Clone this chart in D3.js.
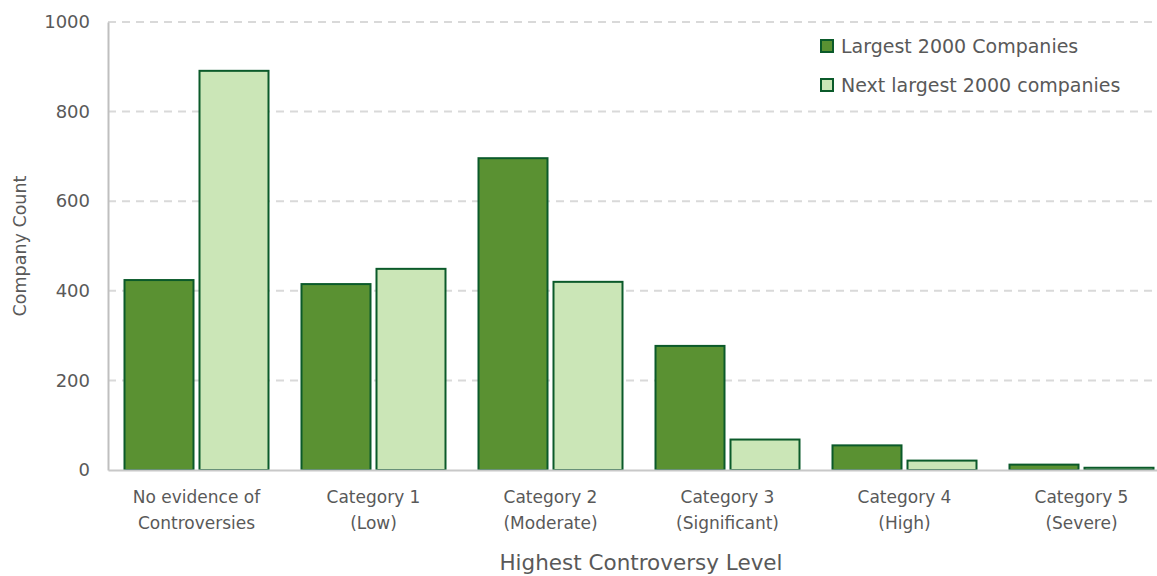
<!DOCTYPE html>
<html>
<head>
<meta charset="utf-8">
<script src="https://cdn.jsdelivr.net/npm/d3@7"></script>
<style>
  html, body { margin: 0; padding: 0; background: #fff; }
  svg { display: block; }
  text { font-family: "DejaVu Sans", "Liberation Sans", sans-serif; fill: #595959; }
</style>
</head>
<body>
<svg id="chart" width="1157" height="576"></svg>
<script>
// Company counts by highest controversy level
const categories = [
  ["No evidence of", "Controversies"],
  ["Category 1", "(Low)"],
  ["Category 2", "(Moderate)"],
  ["Category 3", "(Significant)"],
  ["Category 4", "(High)"],
  ["Category 5", "(Severe)"]
];
const seriesNames = ["Largest 2000 Companies", "Next largest 2000 companies"];
const largest2000 = [424, 415, 696, 277, 55, 12];
const nextLargest2000 = [891, 449, 420, 68, 21, 5];
const yTicks = [0, 200, 400, 600, 800, 1000];

const fills = ["#5a9132", "#cbe6b7"];
const strokeColor = "#0b5a2a";

const svg = d3.select("#chart");
const margin = { left: 108, top: 22, right: 1170, bottom: 470 };

const x = d3.scaleBand()
  .domain(d3.range(categories.length))
  .range([margin.left, margin.right]);

const xInner = d3.scaleBand()
  .domain([0, 1])
  .range([0, x.bandwidth()])
  .paddingInner(0.08)
  .paddingOuter(0.22);

const y = d3.scaleLinear().domain([0, 1000]).range([margin.bottom, margin.top]);

// Dashed horizontal gridlines
svg.append("g")
  .selectAll("line")
  .data(yTicks.filter(d => d > 0))
  .join("line")
  .attr("x1", margin.left)
  .attr("x2", 1157)
  .attr("y1", d => y(d))
  .attr("y2", d => y(d))
  .attr("stroke", "#d9d9d9")
  .attr("stroke-width", 2)
  .attr("stroke-dasharray", "8,6");

// Y axis
const yAxis = d3.axisLeft(y).tickValues(yTicks).tickFormat(d3.format("d")).tickSize(0).tickPadding(18);
const gy = svg.append("g").attr("transform", `translate(${margin.left},0)`).call(yAxis);
gy.select(".domain").attr("stroke", "#bfbfbf").attr("stroke-width", 2);
gy.selectAll("text").style("font-size", "18px").style("font-family", null).attr("fill", "#595959");

// Bars
const data = categories.map((c, i) => [largest2000[i], nextLargest2000[i]]);
const groups = svg.append("g")
  .selectAll("g")
  .data(data)
  .join("g")
  .attr("transform", (d, i) => `translate(${x(i)},0)`);

groups.selectAll("rect")
  .data(d => d.map((v, s) => ({ v, s })))
  .join("rect")
  .attr("x", d => xInner(d.s))
  .attr("width", xInner.bandwidth())
  .attr("y", d => y(d.v))
  .attr("height", d => y(0) - y(d.v))
  .attr("fill", d => fills[d.s])
  .attr("stroke", strokeColor)
  .attr("stroke-width", 2);

// X axis baseline
const xAxis = d3.axisBottom(x).tickSize(0).tickFormat(() => "");
const gx = svg.append("g").attr("transform", `translate(0,${margin.bottom})`).call(xAxis);
gx.select(".domain").attr("stroke", "#c8c8c8").attr("stroke-width", 2);

// Two-line category labels
const labelX = i => x(i) + xInner(0) + (xInner(1) + xInner.bandwidth() - xInner(0)) / 2;
const labels = svg.append("g")
  .selectAll("text")
  .data(categories)
  .join("text")
  .attr("x", (d, i) => labelX(i))
  .attr("y", 503)
  .attr("text-anchor", "middle")
  .style("font-size", "17px");
labels.selectAll("tspan")
  .data(d => d)
  .join("tspan")
  .attr("x", function () { return d3.select(this.parentNode).attr("x"); })
  .attr("dy", (d, j) => j === 0 ? 0 : 26)
  .text(d => d);

// Axis titles
svg.append("text")
  .attr("x", 641)
  .attr("y", 570)
  .attr("text-anchor", "middle")
  .style("font-size", "21.5px")
  .text("Highest Controversy Level");

svg.append("text")
  .attr("transform", "translate(26,246) rotate(-90)")
  .attr("text-anchor", "middle")
  .style("font-size", "17.5px")
  .text("Company Count");

// Legend
const legend = svg.append("g")
  .selectAll("g")
  .data(seriesNames)
  .join("g")
  .attr("transform", (d, i) => `translate(821,${40 + i * 39})`);
legend.append("rect")
  .attr("width", 12)
  .attr("height", 12)
  .attr("fill", (d, i) => fills[i])
  .attr("stroke", strokeColor)
  .attr("stroke-width", 2);
legend.append("text")
  .attr("x", 20)
  .attr("y", 13)
  .style("font-size", "19px")
  .text(d => d);
</script>
</body>
</html>
